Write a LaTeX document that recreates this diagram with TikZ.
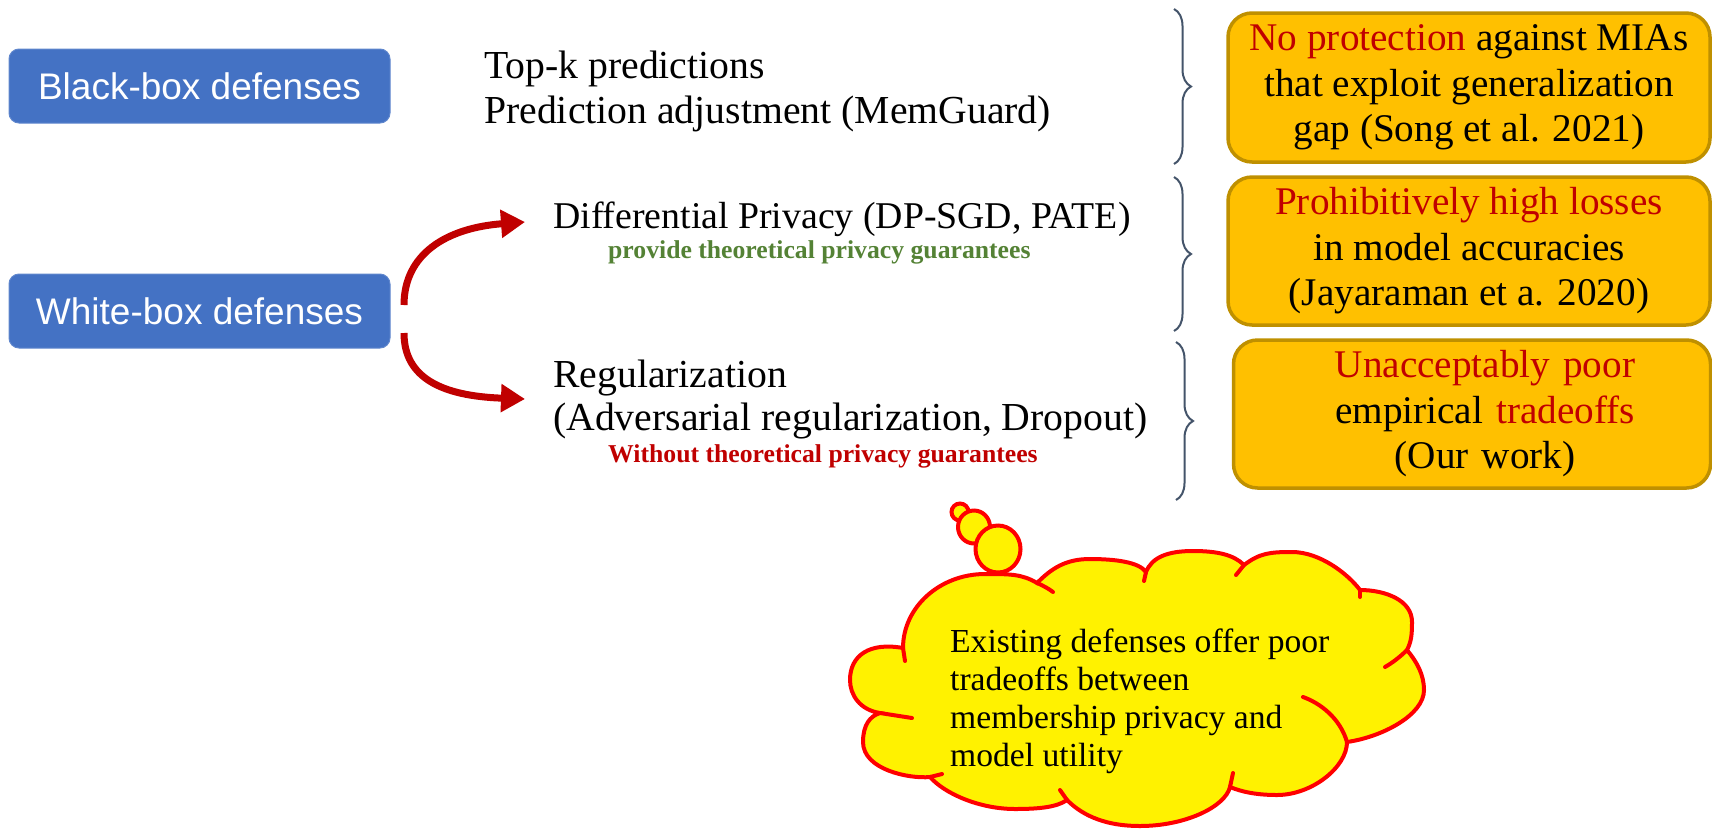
\documentclass[tikz,border=0pt]{standalone}
\usepackage{fontspec}
\setmainfont{Liberation Serif}
\setsansfont{Liberation Sans}
\usetikzlibrary{shapes.geometric,decorations.pathreplacing,arrows.meta}
\definecolor{bluebox}{HTML}{4472C4}
\definecolor{darkred}{HTML}{C00000}
\definecolor{gold}{HTML}{FFC000}
\definecolor{goldborder}{HTML}{BF9000}
\definecolor{dgreen}{HTML}{548235}
\definecolor{braceclr}{HTML}{44546A}
\begin{document}
\begin{tikzpicture}[x=1pt,y=-1pt,
  defbox/.style={rectangle, rounded corners=10pt, fill=bluebox, draw=bluebox!85!white, line width=1pt,
    text=white, font=\sffamily\fontsize{37}{44}\selectfont, minimum width=381pt, minimum height=74pt, inner sep=0pt},
  plain/.style={anchor=base west, inner sep=0pt, font=\fontsize{39.7}{47}\selectfont},
  note/.style={anchor=base west, inner sep=0pt, font=\bfseries\fontsize{25.7}{30}\selectfont},
  resbox/.style={rectangle, rounded corners=24pt, fill=gold, draw=goldborder, line width=3.5pt,
    align=center, inner sep=0pt, font=\fontsize{39.2}{45.5}\selectfont},
  bracest/.style={draw=braceclr, line width=2pt, decorate, decoration={brace, amplitude=17pt}},
  arrowst/.style={draw=darkred, line width=7pt, -{Triangle[length=24pt,width=27pt]}},
  cloudline/.style={draw=red, line width=4pt},
  bubble/.style={ellipse, draw=red, fill=yellow, line width=4pt, inner sep=0pt},
]
\useasboundingbox (0,0) rectangle (1712,828);

% left boxes
\node[defbox] (bb) at (199.5,86) {Black-box defenses};
\node[defbox] (wb) at (199.5,311) {White-box defenses};

% middle texts
\node[plain] (topk) at (484,78) {Top-k predictions};
\node[plain] (pa) at (484,123) {Prediction adjustment (MemGuard)};
\node[plain, font=\fontsize{37.8}{47}\selectfont] (dp) at (553,228) {Differential Privacy (DP-SGD, PATE)};
\node[note, text=dgreen] (dpn) at (608,258) {provide theoretical privacy guarantees};
\node[plain] (reg) at (553,387) {Regularization};
\node[plain] (reg2) at (553,430) {(Adversarial regularization, Dropout)};
\node[note, text=darkred] (regn) at (608,462) {Without theoretical privacy guarantees};

% arrows
\coordinate (a1s) at (404,305);
\coordinate (a1e) at (525,222);
\coordinate (a2s) at (404,333);
\coordinate (a2e) at (525,399);
\draw[arrowst] (a1s) .. controls (404,255) and (445,228) .. (a1e);
\draw[arrowst] (a2s) .. controls (404,378) and (442,396) .. (a2e);

% braces
\draw[bracest] (1174,9) -- (1174,164);
\draw[bracest] (1174,177) -- (1174,331);
\draw[bracest] (1176,342) -- (1176,500);

% result boxes
\node[resbox, minimum width=482pt, minimum height=149pt] (r1) at (1469,87.5)
  {\textcolor{darkred}{No protection} against MIAs\\ that exploit generalization\\ gap (Song et al. 2021)};
\node[resbox, minimum width=482pt, minimum height=148pt] (r2) at (1469,251)
  {\textcolor{darkred}{Prohibitively high losses}\\ in model accuracies\\ (Jayaraman et a. 2020)};
\node[resbox, minimum width=477pt, minimum height=148pt, text width=477pt] (r3) at (1472,414)
  {\hspace*{26pt}\textcolor{darkred}{Unacceptably poor}\\ \hspace*{26pt}empirical \textcolor{darkred}{tradeoffs}\\ \hspace*{26pt}(Our work)};

% cloud
\coordinate (cA) at (903,648);
\coordinate (cB) at (1037,583);
\coordinate (cC) at (1146,572);
\coordinate (cD) at (1244,565);
\coordinate (cE) at (1360,590);
\coordinate (cF) at (1407,650);
\coordinate (cG) at (1347,742);
\coordinate (cH) at (1230,787);
\coordinate (cI) at (1067,800);
\coordinate (cK) at (930,777);
\coordinate (cL) at (880,713);
\path[cloudline, fill=yellow]
  (cA) .. controls (903,607) and (940,574) .. (985,574)
       .. controls (1010,574) and (1022,574) .. (cB)
       .. controls (1051,569) and (1065,559) .. (1090,559)
       .. controls (1115,559) and (1139,562) .. (cC)
       .. controls (1152,557) and (1168,551) .. (1193,551)
       .. controls (1218,551) and (1234,555) .. (cD)
       .. controls (1260,553) and (1270,552) .. (1292,552)
       .. controls (1320,552) and (1348,574) .. (cE)
       .. controls (1385,590) and (1412,600) .. (1412,622)
       .. controls (1412,636) and (1411,642) .. (cF)
       .. controls (1417,662) and (1424,675) .. (1424,690)
       .. controls (1424,715) and (1382,737) .. (cG)
       .. controls (1347,767) and (1312,795) .. (1277,795)
       .. controls (1257,795) and (1242,792) .. (cH)
       .. controls (1225,807) and (1185,826) .. (1140,826)
       .. controls (1100,826) and (1079,812) .. (cI)
       .. controls (1057,807) and (1040,809) .. (1015,809)
       .. controls (980,809) and (945,794) .. (cK)
       .. controls (910,779) and (863,770) .. (863,742)
       .. controls (863,725) and (870,716) .. (cL)
       .. controls (860,710) and (850,695) .. (850,680)
       .. controls (850,655) and (870,642) .. (cA) -- cycle;
% inner puff strokes
\draw[cloudline, line cap=round] (cA) -- (905,661);
\draw[cloudline, line cap=round] (cB) .. controls (1044,586) and (1049,589) .. (1053,592);
\draw[cloudline, line cap=round] (cC) -- (1144,581);
\draw[cloudline, line cap=round] (cD) -- (1236,575);
\draw[cloudline, line cap=round] (cE) -- (1360,597);
\draw[cloudline, line cap=round] (cF) .. controls (1400,657) and (1392,663) .. (1385,667);
\draw[cloudline, line cap=round] (cG) .. controls (1340,718) and (1320,703) .. (1303,697);
\draw[cloudline, line cap=round] (cH) -- (1233,773);
\draw[cloudline, line cap=round] (cI) -- (1060,790);
\draw[cloudline, line cap=round] (cK) -- (942,774);
\draw[cloudline, line cap=round] (cL) -- (912,718);
% thought bubbles
\node[bubble, minimum width=17pt, minimum height=17pt] (b1) at (960,512) {};
\node[bubble, minimum width=32pt, minimum height=33pt] (b2) at (974,527) {};
\node[bubble, minimum width=45pt, minimum height=47pt] (b3) at (998,549) {};
\node[anchor=base west, inner sep=0pt, font=\fontsize{33.6}{38}\selectfont] (ct) at (950,652)
  {\begin{tabular}[t]{@{}l@{}}Existing defenses offer poor\\ tradeoffs between\\ membership privacy and\\ model utility\end{tabular}};
\end{tikzpicture}
\end{document}
